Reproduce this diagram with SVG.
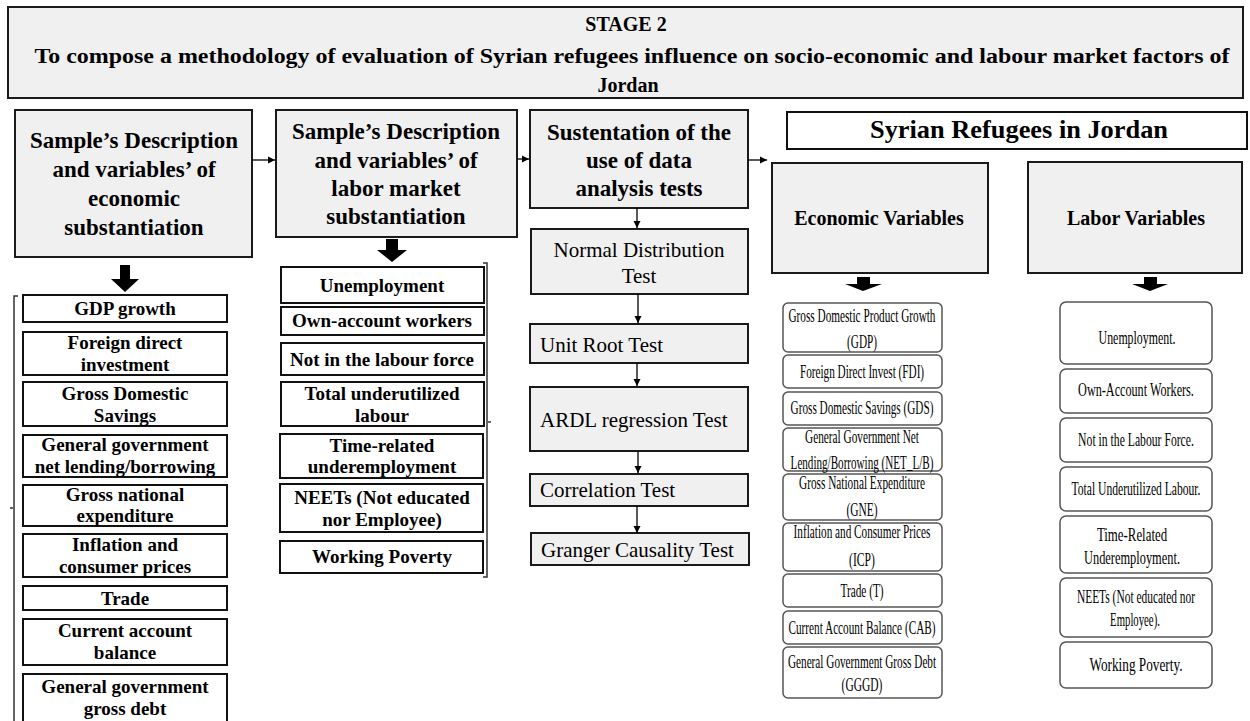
<svg xmlns="http://www.w3.org/2000/svg" width="1250" height="721" viewBox="0 0 1250 721">
<style>
text{font-family:"Liberation Serif","Times New Roman",serif;fill:#000}
.b{font-weight:bold;text-anchor:middle}
.hd{font-size:23px}
.it{font-size:19px}
.ts{font-size:21px}
.tc{text-anchor:middle}
.v{font-size:19px;text-anchor:middle}
.gbox{fill:#f0f0f0;stroke:#1a1a1a;stroke-width:2}
.wbox{fill:#fff;stroke:#111;stroke-width:2}
.rbox{fill:#fff;stroke:#555;stroke-width:1.5}
.con{fill:none;stroke:#000;stroke-width:1.3}
.brk{fill:none;stroke:#333;stroke-width:1.5}
.blk{fill:#000}
</style>
<defs>
<marker id="ah" markerWidth="8" markerHeight="8" refX="7" refY="4" orient="auto" markerUnits="userSpaceOnUse"><path d="M0,0.5 L7,4 L0,7.5 z" fill="#000"/></marker>
</defs>
<rect width="1250" height="721" fill="#fff"/>

<g id="stage">
<rect class="gbox" x="8" y="7" width="1235" height="91"/>
<text class="b" x="626" y="31" font-size="20">STAGE 2</text>
<text class="b" x="632" y="63" font-size="20" textLength="1195" lengthAdjust="spacingAndGlyphs">To compose a methodology of evaluation of Syrian refugees influence on socio-economic and labour market factors of</text>
<text class="b" x="628" y="92" font-size="20">Jordan</text>
</g>

<g id="col1-header">
<rect class="gbox" x="15" y="110" width="237" height="147"/>
<text class="b hd" x="134" y="148">Sample’s Description</text>
<text class="b hd" x="134" y="177">and variables’ of</text>
<text class="b hd" x="134" y="206">economic</text>
<text class="b hd" x="134" y="235">substantiation</text>
</g>

<g id="col2-header">
<rect class="gbox" x="276" y="110" width="241" height="127"/>
<text class="b hd" x="396" y="139">Sample’s Description</text>
<text class="b hd" x="396" y="168">and variables’ of</text>
<text class="b hd" x="396" y="196">labor market</text>
<text class="b hd" x="396" y="224">substantiation</text>
</g>

<g id="col3-header">
<rect class="gbox" x="530" y="110" width="218" height="98"/>
<text class="b hd" x="639" y="140">Sustentation of the</text>
<text class="b hd" x="639" y="168">use of data</text>
<text class="b hd" x="639" y="196">analysis tests</text>
</g>

<g id="col1-items">
<g id="c1-gdp"><rect class="wbox" x="23" y="295" width="204" height="27"/><text class="b it" x="125" y="315">GDP growth</text></g>
<g id="c1-fdi"><rect class="wbox" x="23" y="332" width="204" height="43"/><text class="b it" x="125" y="349">Foreign direct</text><text class="b it" x="125" y="371">investment</text></g>
<g id="c1-gds"><rect class="wbox" x="23" y="382" width="204" height="44"/><text class="b it" x="125" y="400">Gross Domestic</text><text class="b it" x="125" y="422">Savings</text></g>
<g id="c1-ggnl"><rect class="wbox" x="23" y="435" width="204" height="42"/><text class="b it" x="125" y="451">General government</text><text class="b it" x="125" y="473">net lending/borrowing</text></g>
<g id="c1-gne"><rect class="wbox" x="23" y="485" width="204" height="41"/><text class="b it" x="125" y="501">Gross national</text><text class="b it" x="125" y="522">expenditure</text></g>
<g id="c1-icp"><rect class="wbox" x="23" y="534" width="204" height="43"/><text class="b it" x="125" y="551">Inflation and</text><text class="b it" x="125" y="573">consumer prices</text></g>
<g id="c1-trade"><rect class="wbox" x="23" y="586" width="204" height="24"/><text class="b it" x="125" y="605">Trade</text></g>
<g id="c1-cab"><rect class="wbox" x="23" y="619" width="204" height="46"/><text class="b it" x="125" y="637">Current account</text><text class="b it" x="125" y="659">balance</text></g>
<g id="c1-ggd"><rect class="wbox" x="23" y="674" width="204" height="52"/><text class="b it" x="125" y="693">General government</text><text class="b it" x="125" y="715">gross debt</text></g>
</g>

<g id="col2-items">
<g id="c2-unemp"><rect class="wbox" x="281" y="267" width="203" height="36"/><text class="b it" x="382" y="292">Unemployment</text></g>
<g id="c2-own"><rect class="wbox" x="281" y="307" width="203" height="28"/><text class="b it" x="382" y="327">Own-account workers</text></g>
<g id="c2-nilf"><rect class="wbox" x="281" y="343" width="203" height="32"/><text class="b it" x="382" y="366">Not in the labour force</text></g>
<g id="c2-tul"><rect class="wbox" x="281" y="382" width="203" height="44"/><text class="b it" x="382" y="400">Total underutilized</text><text class="b it" x="382" y="422">labour</text></g>
<g id="c2-tru"><rect class="wbox" x="280" y="434" width="203" height="44"/><text class="b it" x="382" y="452">Time-related</text><text class="b it" x="382" y="473">underemployment</text></g>
<g id="c2-neet"><rect class="wbox" x="280" y="484" width="203" height="48"/><text class="b it" x="382" y="504">NEETs (Not educated</text><text class="b it" x="382" y="526">nor Employee)</text></g>
<g id="c2-wp"><rect class="wbox" x="280" y="541" width="203" height="32"/><text class="b it" x="382" y="563">Working Poverty</text></g>
</g>

<g id="tests">
<g id="t-normal"><rect class="gbox" x="531" y="229" width="217" height="65"/><text class="ts tc" x="639" y="257">Normal Distribution</text><text class="ts tc" x="639" y="283">Test</text></g>
<g id="t-unit"><rect class="gbox" x="530" y="324" width="218" height="39"/><text class="ts" x="540" y="352">Unit Root Test</text></g>
<g id="t-ardl"><rect class="gbox" x="530" y="387" width="218" height="64"/><text class="ts" x="540" y="427">ARDL regression Test</text></g>
<g id="t-corr"><rect class="gbox" x="530" y="474" width="218" height="32"/><text class="ts" x="540" y="497">Correlation Test</text></g>
<g id="t-granger"><rect class="gbox" x="531" y="533" width="218" height="32"/><text class="ts" x="541" y="557">Granger Causality Test</text></g>
</g>

<g id="syrian">
<rect class="wbox" x="787" y="112" width="460" height="37"/>
<text class="b" x="1019" y="138" font-size="25" textLength="298" lengthAdjust="spacingAndGlyphs">Syrian Refugees in Jordan</text>
</g>
<g id="econ-header">
<rect class="gbox" x="772" y="163" width="216" height="110"/>
<text class="b" x="879" y="225" font-size="20">Economic Variables</text>
</g>
<g id="labor-header">
<rect class="gbox" x="1028" y="162" width="214" height="111"/>
<text class="b" x="1136" y="225" font-size="20">Labor Variables</text>
</g>

<g id="econ-items">
<g id="e-gdp"><rect class="rbox" x="783" y="303" width="159" height="49" rx="5"/><text class="v" transform="translate(862,322) scale(0.6,1)" textLength="245" lengthAdjust="spacingAndGlyphs">Gross Domestic Product Growth</text><text class="v" transform="translate(862,348) scale(0.6,1)" textLength="50" lengthAdjust="spacingAndGlyphs">(GDP)</text></g>
<g id="e-fdi"><rect class="rbox" x="783" y="355" width="159" height="33" rx="5"/><text class="v" transform="translate(862,378) scale(0.6,1)" textLength="207" lengthAdjust="spacingAndGlyphs">Foreign Direct Invest (FDI)</text></g>
<g id="e-gds"><rect class="rbox" x="783" y="392" width="159" height="33" rx="5"/><text class="v" transform="translate(862,414) scale(0.6,1)" textLength="238" lengthAdjust="spacingAndGlyphs">Gross Domestic Savings (GDS)</text></g>
<g id="e-net"><rect class="rbox" x="783" y="428" width="159" height="43" rx="5"/><text class="v" transform="translate(862,443) scale(0.6,1)" textLength="190" lengthAdjust="spacingAndGlyphs">General Government Net</text><text class="v" transform="translate(862,469) scale(0.6,1)" textLength="238" lengthAdjust="spacingAndGlyphs">Lending/Borrowing (NET_L/B)</text></g>
<g id="e-gne"><rect class="rbox" x="783" y="474" width="159" height="46" rx="5"/><text class="v" transform="translate(862,489) scale(0.6,1)" textLength="210" lengthAdjust="spacingAndGlyphs">Gross National Expenditure</text><text class="v" transform="translate(862,516) scale(0.6,1)" textLength="52" lengthAdjust="spacingAndGlyphs">(GNE)</text></g>
<g id="e-icp"><rect class="rbox" x="783" y="523" width="159" height="48" rx="5"/><text class="v" transform="translate(862,538) scale(0.6,1)" textLength="228" lengthAdjust="spacingAndGlyphs">Inflation and Consumer Prices</text><text class="v" transform="translate(862,566) scale(0.6,1)" textLength="43" lengthAdjust="spacingAndGlyphs">(ICP)</text></g>
<g id="e-trade"><rect class="rbox" x="783" y="574" width="159" height="33" rx="5"/><text class="v" transform="translate(862,597) scale(0.6,1)" textLength="72" lengthAdjust="spacingAndGlyphs">Trade (T)</text></g>
<g id="e-cab"><rect class="rbox" x="783" y="611" width="159" height="33" rx="5"/><text class="v" transform="translate(862,634) scale(0.6,1)" textLength="245" lengthAdjust="spacingAndGlyphs">Current Account Balance (CAB)</text></g>
<g id="e-gggd"><rect class="rbox" x="783" y="647" width="159" height="51" rx="5"/><text class="v" transform="translate(862,668) scale(0.6,1)" textLength="247" lengthAdjust="spacingAndGlyphs">General Government Gross Debt</text><text class="v" transform="translate(862,691) scale(0.6,1)" textLength="68" lengthAdjust="spacingAndGlyphs">(GGGD)</text></g>
</g>

<g id="labor-items">
<g id="l-unemp"><rect class="rbox" x="1060" y="302" width="152" height="62" rx="6"/><text class="v" transform="translate(1137,344) scale(0.6,1)" textLength="128" lengthAdjust="spacingAndGlyphs">Unemployment.</text></g>
<g id="l-own"><rect class="rbox" x="1060" y="369" width="152" height="44" rx="6"/><text class="v" transform="translate(1136,396) scale(0.6,1)" textLength="193" lengthAdjust="spacingAndGlyphs">Own-Account Workers.</text></g>
<g id="l-nilf"><rect class="rbox" x="1060" y="418" width="152" height="44" rx="6"/><text class="v" transform="translate(1136,446) scale(0.6,1)" textLength="193" lengthAdjust="spacingAndGlyphs">Not in the Labour Force.</text></g>
<g id="l-tul"><rect class="rbox" x="1060" y="467" width="152" height="44" rx="6"/><text class="v" transform="translate(1136,495) scale(0.6,1)" textLength="215" lengthAdjust="spacingAndGlyphs">Total Underutilized Labour.</text></g>
<g id="l-tru"><rect class="rbox" x="1060" y="516" width="152" height="57" rx="6"/><text class="v" transform="translate(1132,541) scale(0.6,1)" textLength="117" lengthAdjust="spacingAndGlyphs">Time-Related</text><text class="v" transform="translate(1132,564) scale(0.6,1)" textLength="160" lengthAdjust="spacingAndGlyphs">Underemployment.</text></g>
<g id="l-neet"><rect class="rbox" x="1060" y="578" width="152" height="59" rx="6"/><text class="v" transform="translate(1136,603) scale(0.6,1)" textLength="197" lengthAdjust="spacingAndGlyphs">NEETs (Not educated nor</text><text class="v" transform="translate(1135,626) scale(0.6,1)" textLength="83" lengthAdjust="spacingAndGlyphs">Employee).</text></g>
<g id="l-wp"><rect class="rbox" x="1060" y="642" width="152" height="46" rx="6"/><text class="v" transform="translate(1136,671) scale(0.6,1)" textLength="155" lengthAdjust="spacingAndGlyphs">Working Poverty.</text></g>
</g>

<g id="connectors">
<path class="con" d="M252,160 H275" marker-end="url(#ah)"/>
<path class="con" d="M517,159 H529" marker-end="url(#ah)"/>
<path class="con" d="M748,160 H767" marker-end="url(#ah)"/>
<path class="con" d="M637,208 V228" marker-end="url(#ah)"/>
<path class="con" d="M638,294 V323" marker-end="url(#ah)"/>
<path class="con" d="M637,363 V386" marker-end="url(#ah)"/>
<path class="con" d="M638,451 V473" marker-end="url(#ah)"/>
<path class="con" d="M637,506 V533" marker-end="url(#ah)"/>
<polygon class="blk" points="120,265 130,265 130,279 139,279 125,292 111,279 120,279"/>
<polygon class="blk" points="386,239 398,239 398,250 407,250 392,262 377,250 386,250"/>
<polygon class="blk" points="857,277 870,277 870,284 882,284 863,291 845,284 857,284"/>
<polygon class="blk" points="1144,277 1157,277 1157,284 1168,284 1150,291 1132,284 1144,284"/>
<path class="brk" d="M18,296 H14 V721"/>
<path class="brk" d="M10,508 H13"/>
<path class="brk" d="M483,263 H487 V577 H483"/>
<path class="brk" d="M488,422 H491"/>
</g>
</svg>
